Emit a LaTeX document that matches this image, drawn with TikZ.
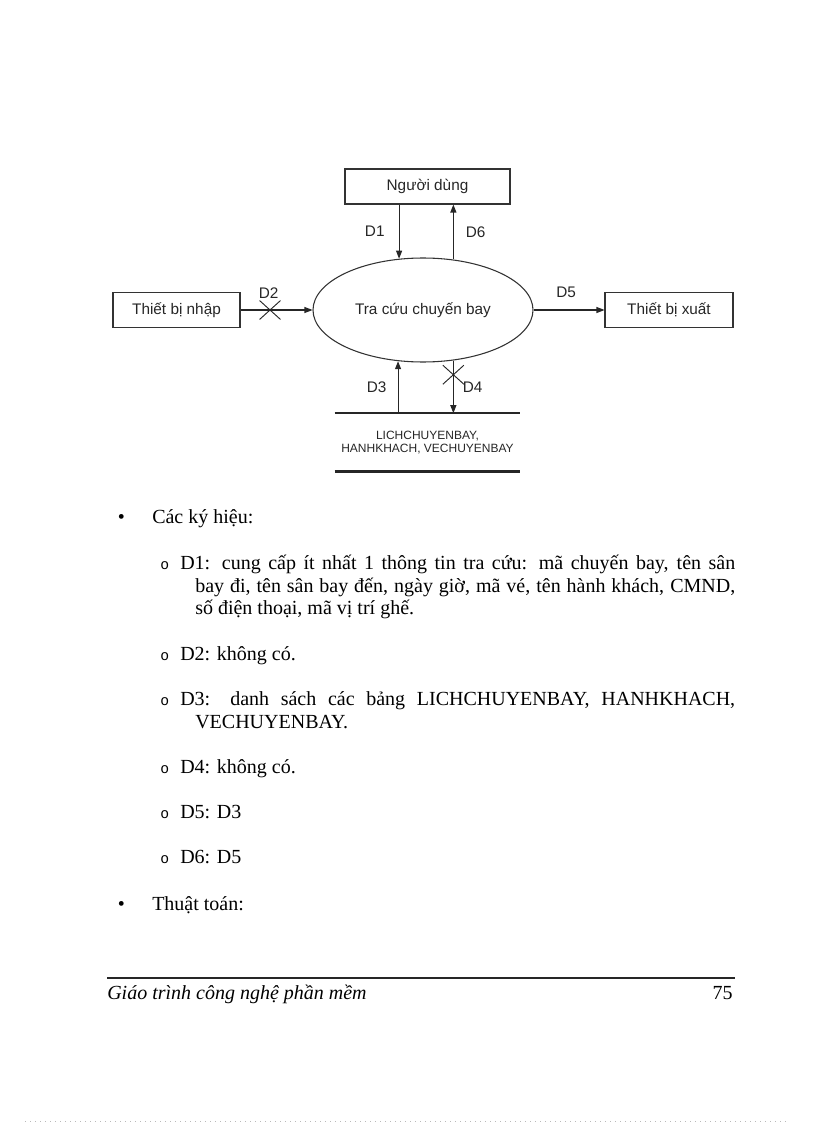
\documentclass[tikz,border=0pt]{standalone}
\usepackage{fontspec}
\setmainfont{Liberation Serif}
\newfontfamily\diafont{Liberation Sans}
\newfontfamily\bulfont{Liberation Mono}
\usetikzlibrary{arrows.meta,shapes.geometric,shapes.misc}
\def\bodyfont{\fontsize{15}{16.875}\selectfont}
\def\labfont{\diafont\fontsize{11.5}{13}\selectfont}

\begin{document}
\begin{tikzpicture}[x=0.75pt, y=-0.75pt,
	box/.style={draw=black!80, line width=0.8pt, minimum height=26.25pt, inner sep=0pt, font=\labfont, text=black!85},
	proc/.style={ellipse, draw=black!80, line width=0.8pt, minimum width=165pt, minimum height=78pt, inner sep=0pt, font=\labfont, text=black!85},
	flow/.style={draw=black!85, line width=0.8pt, -{Triangle[length=6pt,width=4.5pt]}},
	lbl/.style={inner sep=0pt, font=\labfont, text=black!85},
	xmark/.style={cross out, draw=black!85, line width=0.7pt, minimum width=15pt, minimum height=13.5pt, inner sep=0pt},
	store/.style={minimum width=138.75pt, minimum height=43.5pt, inner sep=0pt, align=center, font=\diafont\fontsize{9}{9.75}\selectfont, text=black!85},
	storeline/.style={line width=1.9pt, black!85},
	item/.style={anchor=base west, inner sep=0pt, font=\bodyfont},
	para/.style={anchor=base west, inner sep=0pt, text width=416.25pt, align=justify, font=\bodyfont},
	subdot/.style={anchor=base west, inner sep=0pt, font=\bulfont\fontsize{11}{12}\selectfont}]
			%%%%% START %%%%%
			\useasboundingbox (0,0) rectangle (816,1123);
			
			\node[box, minimum width=123.75pt] (user) at (427.5,186.5) {Người dùng};
			\node[box, minimum width=95.25pt] (inbox) at (176.5,310) {Thiết bị nhập};
			\node[box, minimum width=96pt] (outbox) at (669,310) {Thiết bị xuất};
			\node[proc] (proc) at (423,310) {Tra cứu chuyến bay};
			\node[store, yshift=1.9pt] (store) at (427.5,445) {LICHCHUYENBAY,\\HANHKHACH, VECHUYENBAY};
			
			\draw[storeline] (store.north west) -- (store.north east);
			\draw[storeline] (store.south west) -- (store.south east);
			
			\draw[flow] (user.south -| proc.115.3) -- node[lbl, left=10.5pt] {D1} (proc.115.3);
			\draw[flow] (proc.59) -- node[lbl, right=9pt] {D6} (user.south -| proc.59);
			\draw[flow] (inbox) -- node[xmark, pos=0.41] {} node[lbl, above=8pt, pos=0.39] {D2} (proc);
			\draw[flow] (proc) -- node[lbl, above=9pt, pos=0.46] {D5} (outbox);
			\draw[flow] (store.north -| proc.-116.3) -- node[lbl, left=8.25pt] {D3} (proc.-116.3);
			\draw[flow] (proc.-59) -- node[xmark, pos=0.27] {} node[lbl, right=6.75pt] {D4} (store.north -| proc.-59);
			
			\node[item] (bul1) at (117.5,523.5) {\textbullet};
			\node[item] (sym) at (152,523.5) {Các ký hiệu:};
			
			\node[subdot] (o1) at (160,569.5) {o};
			\node[para] (d1) at (180,569.5) {\hangindent=11.25pt \hangafter=1 D1: cung cấp ít nhất 1 thông tin tra cứu: mã chuyến bay, tên sân\linebreak bay đi, tên sân bay đến, ngày giờ, mã vé, tên hành khách, CMND,\linebreak số điện thoại, mã vị trí ghế.\par};
			\node[subdot] (o2) at (160,660.5) {o};
			\node[item] (d2) at (180,660.5) {D2: không có.};
			\node[subdot] (o3) at (160,705.5) {o};
			\node[para] (d3) at (180,705.5) {\hangindent=11.25pt \hangafter=1 D3: danh sách các bảng LICHCHUYENBAY, HANHKHACH,\linebreak VECHUYENBAY.\par};
			\node[subdot] (o4) at (160,773.5) {o};
			\node[item] (d4) at (180,773.5) {D4: không có.};
			\node[subdot] (o5) at (160,818.5) {o};
			\node[item] (d5) at (180,818.5) {D5: D3};
			\node[subdot] (o6) at (160,863.5) {o};
			\node[item] (d6) at (180,863.5) {D6: D5};
			
			\node[item] (bul2) at (117.5,910.5) {\textbullet};
			\node[item] (algo) at (152,910.5) {Thuật toán:};
			
			\draw[line width=1.1pt, black!85] (107,978) -- (735,978);
			\node[item, font=\bodyfont\itshape] (foot) at (107,999.5) {Giáo trình công nghệ phần mềm};
			\node[item, anchor=base east] (pageno) at (733,999.5) {75};
			
			\draw[gray!55, line width=0.75pt, dash pattern=on 0.75pt off 3pt] (25,1121.5) -- (790,1121.5);
			%%%%% END %%%%%
\end{tikzpicture}
\end{document}
